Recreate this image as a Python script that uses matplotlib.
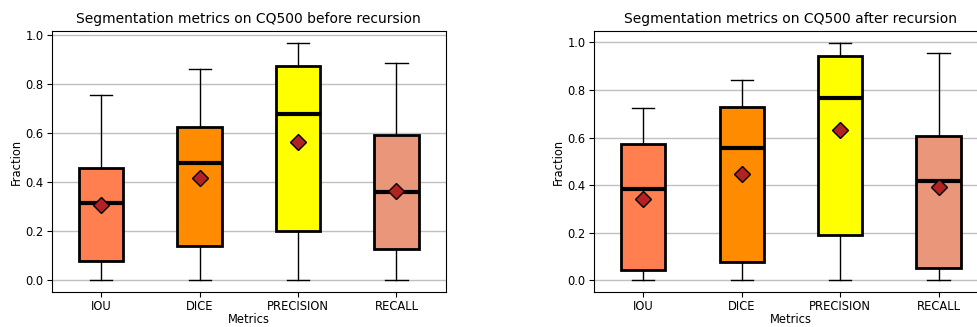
import matplotlib.pyplot as plt

metrics = ["IOU", "DICE", "PRECISION", "RECALL"]
colors = ["coral", "darkorange", "yellow", "darksalmon"]

# before recursion
before_whislo = [0.0, 0.0, 0.0, 0.0]
before_q1 = [0.077, 0.141, 0.200, 0.128]
before_med = [0.315, 0.477, 0.675, 0.359]
before_q3 = [0.456, 0.625, 0.872, 0.593]
before_whishi = [0.755, 0.861, 0.966, 0.883]
before_mean = [0.306, 0.418, 0.561, 0.361]

# after recursion
after_whislo = [0.0, 0.0, 0.0, 0.0]
after_q1 = [0.041, 0.075, 0.191, 0.051]
after_med = [0.385, 0.555, 0.767, 0.416]
after_q3 = [0.572, 0.727, 0.942, 0.608]
after_whishi = [0.726, 0.841, 0.998, 0.956]
after_mean = [0.343, 0.448, 0.631, 0.392]


def make_stats(lo, q1, med, q3, hi, mean):
    stats = []
    for i in range(len(metrics)):
        stats.append({
            "label": metrics[i],
            "whislo": lo[i],
            "q1": q1[i],
            "med": med[i],
            "q3": q3[i],
            "whishi": hi[i],
            "mean": mean[i],
            "fliers": [],
        })
    return stats


def draw(ax, stats, title):
    bp = ax.bxp(
        stats,
        widths=0.45,
        showmeans=True,
        patch_artist=True,
        boxprops=dict(linewidth=2, edgecolor="black"),
        medianprops=dict(color="black", linewidth=3),
        meanprops=dict(marker="D", markerfacecolor="firebrick",
                       markeredgecolor="black", markersize=8.5),
        whiskerprops=dict(color="black", linewidth=1),
        capprops=dict(color="black", linewidth=1),
        zorder=3,
    )
    for patch, c in zip(bp["boxes"], colors):
        patch.set_facecolor(c)
    ax.yaxis.grid(True, color="#c0c0c0", linewidth=1, zorder=0)
    ax.set_axisbelow(True)
    ax.set_title(title, fontsize=10)
    ax.set_xlabel("Metrics", fontsize=8.3, labelpad=0)
    ax.set_ylabel("Fraction", fontsize=8.3, labelpad=2)
    ax.tick_params(labelsize=8.3, pad=2.5)


fig = plt.figure(figsize=(9.77, 3.27), dpi=100)
ax1 = fig.add_axes([0.0532, 0.107, 0.403, 0.798])
ax2 = fig.add_axes([0.608, 0.107, 0.403, 0.798])

draw(ax1, make_stats(before_whislo, before_q1, before_med, before_q3,
                     before_whishi, before_mean),
     "Segmentation metrics on CQ500 before recursion")
draw(ax2, make_stats(after_whislo, after_q1, after_med, after_q3,
                     after_whishi, after_mean),
     "Segmentation metrics on CQ500 after recursion")

fig.savefig("out.png", dpi=100)
